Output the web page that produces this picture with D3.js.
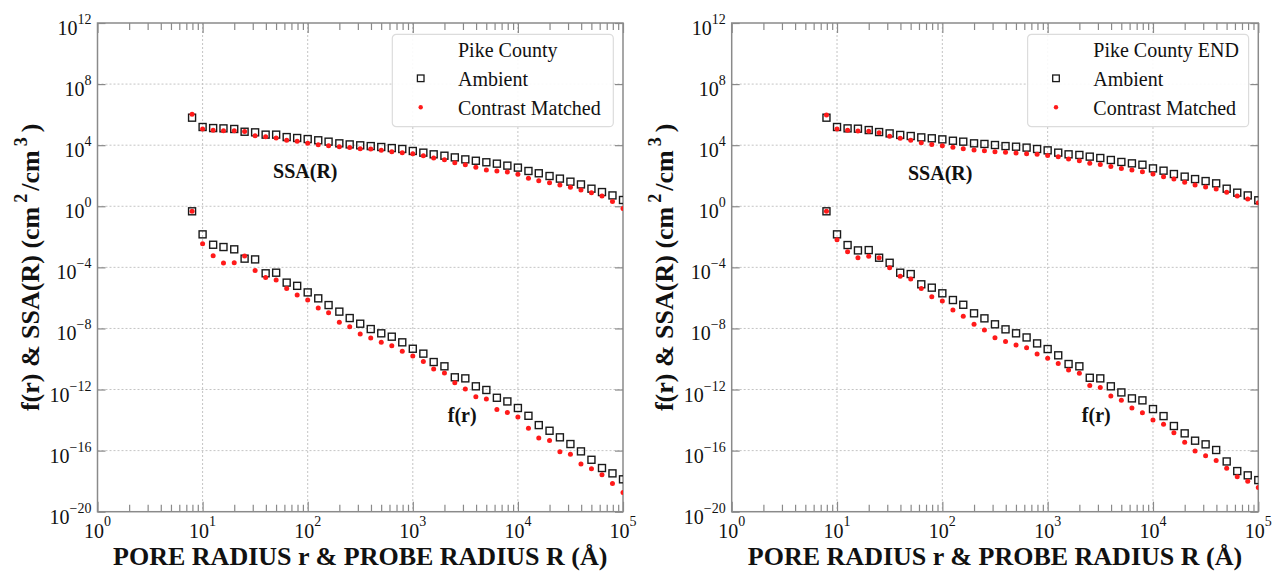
<!DOCTYPE html>
<html>
<head>
<meta charset="utf-8">
<script src="https://cdn.jsdelivr.net/npm/d3@7"></script>
<style>
  html, body { margin: 0; padding: 0; background: #fff; }
  svg { display: block; }
  text { font-family: "Liberation Serif", "Times New Roman", serif; fill: #111; }
</style>
</head>
<body>
<svg id="chart" width="1280" height="574"></svg>
<script>
// Pore / probe radius grid (Å), shared by every series
const radius = [
  7.94, 10, 12.6, 15.8, 20, 25.1, 31.6, 39.8, 50.1, 63.1, 79.4,
  100, 126, 158, 200, 251, 316, 398, 501, 631, 794,
  1000, 1260, 1580, 2000, 2510, 3160, 3980, 5010, 6310, 7940,
  10000, 12600, 15800, 20000, 25100, 31600, 39800, 50100, 63100, 79400, 100000
];

// Values are stored as log10 of SSA(R) (cm^2/cm^3) and f(r)
const pikeSsaAmbientLog = [
  5.80, 5.19, 5.12, 5.10, 5.06, 4.88, 4.84, 4.69, 4.69, 4.53, 4.47,
  4.40, 4.32, 4.23, 4.12, 4.05, 3.99, 3.94, 3.88, 3.81, 3.75,
  3.62, 3.51, 3.40, 3.31, 3.20, 3.07, 2.98, 2.88, 2.79, 2.66,
  2.53, 2.31, 2.16, 1.98, 1.81, 1.61, 1.43, 1.15, 0.93, 0.71, 0.41
];
const pikeSsaMatchedLog = [
  6.02, 5.06, 4.97, 4.95, 4.95, 4.90, 4.62, 4.55, 4.47, 4.32, 4.25,
  4.12, 4.03, 3.97, 3.90, 3.84, 3.77, 3.75, 3.66, 3.57, 3.51,
  3.44, 3.31, 3.16, 3.05, 2.85, 2.72, 2.55, 2.37, 2.31, 2.24,
  2.09, 1.83, 1.67, 1.54, 1.39, 1.24, 1.06, 0.89, 0.67, 0.32, -0.14
];
const pikeFrAmbientLog = [
  -0.33, -1.84, -2.52, -2.67, -2.82, -3.43, -3.48, -4.39, -4.35, -5.00, -5.21,
  -5.64, -6.03, -6.47, -6.90, -7.32, -7.69, -8.04, -8.32, -8.54, -8.91,
  -9.33, -9.65, -10.20, -10.48, -11.20, -11.27, -11.79, -12.03, -12.54, -12.78,
  -13.21, -13.72, -14.33, -14.70, -15.13, -15.57, -16.05, -16.60, -17.14, -17.49, -17.88
];
const pikeFrMatchedLog = [
  -0.33, -2.45, -3.24, -3.72, -3.70, -3.26, -4.20, -4.66, -4.83, -5.38, -5.81,
  -6.14, -6.66, -6.97, -7.60, -7.89, -8.37, -8.63, -8.91, -9.13, -9.50,
  -9.81, -10.16, -10.66, -10.92, -11.55, -11.97, -12.47, -12.62, -13.30, -13.50,
  -13.80, -14.54, -15.18, -15.33, -16.07, -16.23, -16.88, -17.19, -17.58, -18.15, -18.74
];

const endSsaAmbientLog = [
  5.80, 5.19, 5.10, 5.08, 4.99, 4.86, 4.77, 4.67, 4.60, 4.51, 4.45,
  4.38, 4.29, 4.23, 4.12, 4.08, 4.01, 3.94, 3.90, 3.84, 3.75,
  3.66, 3.51, 3.40, 3.36, 3.25, 3.16, 3.03, 2.90, 2.81, 2.72,
  2.48, 2.33, 2.11, 1.94, 1.78, 1.65, 1.50, 1.15, 0.89, 0.71, 0.39
];
const endSsaMatchedLog = [
  5.98, 5.06, 4.97, 4.93, 4.91, 4.82, 4.58, 4.45, 4.32, 4.16, 4.05,
  3.97, 3.86, 3.77, 3.68, 3.64, 3.57, 3.53, 3.49, 3.44, 3.40,
  3.33, 3.25, 3.09, 2.98, 2.81, 2.74, 2.61, 2.48, 2.37, 2.26,
  2.11, 1.94, 1.78, 1.57, 1.39, 1.26, 1.13, 0.91, 0.67, 0.47, 0.23
];
const endFrAmbientLog = [
  -0.33, -1.84, -2.54, -2.89, -2.87, -3.37, -3.70, -4.35, -4.44, -5.11, -5.33,
  -5.70, -6.14, -6.45, -7.01, -7.34, -7.73, -8.06, -8.32, -8.59, -8.98,
  -9.35, -9.76, -10.33, -10.48, -11.23, -11.27, -11.79, -12.19, -12.58, -12.71,
  -13.28, -13.74, -14.39, -14.87, -15.35, -15.59, -15.96, -16.71, -17.34, -17.62, -17.93
];
const endFrMatchedLog = [
  -0.33, -2.19, -2.98, -3.37, -3.28, -3.37, -4.02, -4.59, -4.76, -5.38, -5.92,
  -6.21, -6.80, -7.21, -7.73, -8.10, -8.61, -8.85, -9.09, -9.26, -9.68,
  -9.96, -10.29, -10.72, -10.94, -11.73, -11.86, -12.43, -12.71, -13.21, -13.52,
  -14.00, -14.28, -14.83, -15.46, -16.03, -16.33, -16.64, -17.16, -17.71, -18.01, -18.41
];

// Axis tick exponents
const xTickExponents = [0, 1, 2, 3, 4, 5];
const yTickExponents = [12, 8, 4, 0, -4, -8, -12, -16, -20];

const legendTitles = ["Pike County", "Pike County END"];
const seriesNames = ["Ambient", "Contrast Matched"];
const xAxisTitle = "PORE RADIUS r & PROBE RADIUS R (Å)";

const panels = [
  {
    id: "pike", left: 97.5, right: 623, title: legendTitles[0],
    ssaAmb: pikeSsaAmbientLog, ssaCm: pikeSsaMatchedLog,
    frAmb: pikeFrAmbientLog, frCm: pikeFrMatchedLog,
    ssaLabel: [46.8, 1.85], frLabel: [2150, -14.11]
  },
  {
    id: "end", left: 731.7, right: 1258.3, title: legendTitles[1],
    ssaAmb: endSsaAmbientLog, ssaCm: endSsaMatchedLog,
    frAmb: endFrAmbientLog, frCm: endFrMatchedLog,
    ssaLabel: [47.2, 1.70], frLabel: [2110, -14.11]
  }
];

const TOP = 23, BOTTOM = 511.7;
const svg = d3.select("#chart");
const defs = svg.append("defs");
const frameColor = "#8a8a8a";
const gridColor = "#c4c4c4";

function powerLabel(sel, exp, mainSize, supSize, raise) {
  sel.append("tspan").text("10").attr("font-size", mainSize);
  sel.append("tspan").text(exp < 0 ? "\u2212" + Math.abs(exp) : String(exp))
    .attr("font-size", supSize).attr("dy", -raise);
}

panels.forEach(p => {
  const x = d3.scaleLog().domain([1, 1e5]).range([p.left, p.right]);
  const y = d3.scaleLog().domain([1e-20, 1e12]).range([BOTTOM, TOP]);
  const g = svg.append("g").attr("class", "panel-" + p.id);

  // dotted grid at interior decades
  const gridX = xTickExponents.slice(1, -1).map(e => 10 ** e);
  const gridY = yTickExponents.slice(1, -1).map(e => 10 ** e);
  g.append("g").selectAll("line").data(gridX).join("line")
    .attr("x1", d => x(d)).attr("x2", d => x(d))
    .attr("y1", TOP).attr("y2", BOTTOM)
    .attr("stroke", gridColor).attr("stroke-width", 1).attr("stroke-dasharray", "2,2");
  g.append("g").selectAll("line").data(gridY).join("line")
    .attr("y1", d => y(d)).attr("y2", d => y(d))
    .attr("x1", p.left).attr("x2", p.right)
    .attr("stroke", gridColor).attr("stroke-width", 1).attr("stroke-dasharray", "2,2");

  // inward ticks on every side
  const minor = x.ticks().filter(v => Math.abs(Math.log10(v) - Math.round(Math.log10(v))) > 1e-6);
  const majorX = xTickExponents.map(e => 10 ** e);
  const majorY = yTickExponents.map(e => 10 ** e);
  const styleAxis = a => {
    a.select(".domain").remove();
    a.selectAll("line").attr("stroke", frameColor).attr("stroke-width", 1.2);
  };
  g.append("g").attr("transform", `translate(0,${TOP})`)
    .call(d3.axisTop(x).tickValues(minor).tickSize(-7).tickFormat("")).call(styleAxis);
  g.append("g").attr("transform", `translate(0,${BOTTOM})`)
    .call(d3.axisBottom(x).tickValues(minor).tickSize(-7).tickFormat("")).call(styleAxis);
  g.append("g").attr("transform", `translate(0,${TOP})`)
    .call(d3.axisTop(x).tickValues(majorX).tickSize(-10).tickFormat("")).call(styleAxis);
  g.append("g").attr("transform", `translate(0,${BOTTOM})`)
    .call(d3.axisBottom(x).tickValues(majorX).tickSize(-10).tickFormat("")).call(styleAxis);
  g.append("g").attr("transform", `translate(${p.left},0)`)
    .call(d3.axisLeft(y).tickValues(majorY).tickSize(-8).tickFormat("")).call(styleAxis);
  g.append("g").attr("transform", `translate(${p.right},0)`)
    .call(d3.axisRight(y).tickValues(majorY).tickSize(-8).tickFormat("")).call(styleAxis);

  // frame
  g.append("rect").attr("x", p.left).attr("y", TOP)
    .attr("width", p.right - p.left).attr("height", BOTTOM - TOP)
    .attr("fill", "none").attr("stroke", frameColor).attr("stroke-width", 1.5);

  // tick labels
  xTickExponents.forEach(e => {
    g.append("text").attr("x", x(10 ** e)).attr("y", BOTTOM + 26)
      .attr("text-anchor", "middle")
      .call(s => powerLabel(s, e, 20, 14, 12));
  });
  yTickExponents.forEach(e => {
    g.append("text").attr("x", p.left - 6).attr("y", y(10 ** e) + 12)
      .attr("text-anchor", "end")
      .call(s => powerLabel(s, e, 20, 14, 11));
  });

  // axis titles
  g.append("text").attr("x", (p.left + p.right) / 2).attr("y", 565)
    .attr("text-anchor", "middle").attr("font-size", 26).attr("font-weight", "bold")
    .text(xAxisTitle);
  const yt = g.append("text")
    .attr("transform", `translate(${p.left - 59},${(TOP + BOTTOM) / 2}) rotate(-90)`)
    .attr("text-anchor", "middle").attr("font-size", 26).attr("font-weight", "bold");
  yt.append("tspan").text("f(r) & SSA(R) (cm");
  yt.append("tspan").text("2").attr("font-size", 18).attr("dx", 4).attr("dy", -12);
  yt.append("tspan").text("/cm").attr("dx", 3).attr("dy", 12);
  yt.append("tspan").text("3").attr("font-size", 18).attr("dx", 4).attr("dy", -12);
  yt.append("tspan").text(")").attr("dx", 5).attr("dy", 12);

  // data marks, clipped to the plotting area
  const clipId = "clip-" + p.id;
  defs.append("clipPath").attr("id", clipId).append("rect")
    .attr("x", p.left).attr("y", TOP)
    .attr("width", p.right - p.left).attr("height", BOTTOM - TOP);
  const marks = g.append("g").attr("clip-path", `url(#${clipId})`);

  const toPts = arr => arr.map((v, i) => ({ r: radius[i], v: 10 ** v }));
  const ambient = toPts(p.ssaAmb).concat(toPts(p.frAmb));
  const matched = toPts(p.ssaCm).concat(toPts(p.frCm));
  const sq = 7;
  marks.append("g").selectAll("rect").data(ambient).join("rect")
    .attr("x", d => x(d.r) - sq / 2).attr("y", d => y(d.v) - sq / 2)
    .attr("width", sq).attr("height", sq)
    .attr("fill", "none").attr("stroke", "#1a1a1a").attr("stroke-width", 1.4);
  marks.append("g").selectAll("circle").data(matched).join("circle")
    .attr("cx", d => x(d.r)).attr("cy", d => y(d.v)).attr("r", 2.5)
    .attr("fill", "#ff1a1a");

  // curve annotations
  g.append("text").attr("x", x(p.ssaLabel[0])).attr("y", y(10 ** p.ssaLabel[1]))
    .attr("font-size", 20).attr("font-weight", "bold").text("SSA(R)");
  g.append("text").attr("x", x(p.frLabel[0])).attr("y", y(10 ** p.frLabel[1]))
    .attr("font-size", 20).attr("font-weight", "bold").text("f(r)");

  // legend
  const lw = 221, lh = 92.4;
  const lx = p.right - 9.7 - lw, ly = 34.3;
  const lg = g.append("g").attr("transform", `translate(${lx},${ly})`);
  lg.append("rect").attr("width", lw).attr("height", lh).attr("rx", 4)
    .attr("fill", "#fff").attr("fill-opacity", 0.9)
    .attr("stroke", "#dcdcdc").attr("stroke-width", 1.2);
  lg.append("text").attr("x", 65.7).attr("y", 22.4).attr("font-size", 20).text(p.title);
  lg.append("rect").attr("x", 28.4 - 3.3).attr("y", 44 - 3.3).attr("width", 6.6).attr("height", 6.6)
    .attr("fill", "none").attr("stroke", "#1a1a1a").attr("stroke-width", 1.3);
  lg.append("text").attr("x", 65.7).attr("y", 51.7).attr("font-size", 20).text(seriesNames[0]);
  lg.append("circle").attr("cx", 28.4).attr("cy", 73).attr("r", 2.2).attr("fill", "#ff1a1a");
  lg.append("text").attr("x", 65.7).attr("y", 80.7).attr("font-size", 20).text(seriesNames[1]);
});
</script>
</body>
</html>
